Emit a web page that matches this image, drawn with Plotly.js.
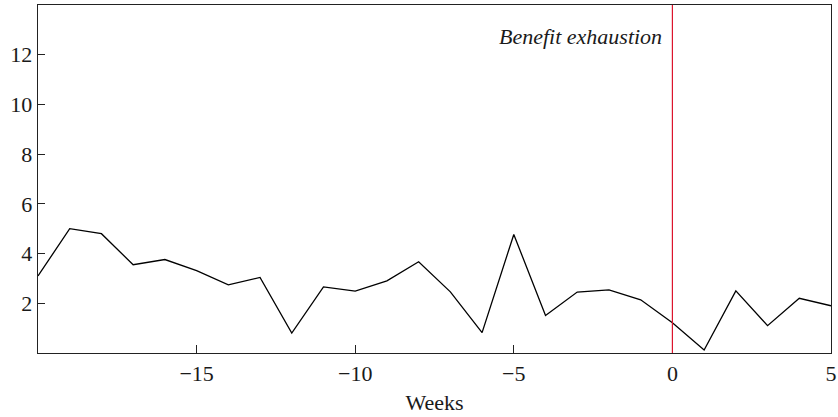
<!DOCTYPE html>
<html>
<head>
<meta charset="utf-8">
<script src="https://cdn.plot.ly/plotly-3.0.1.min.js"></script>
<style>html,body{margin:0;padding:0;background:#fff;}#chart{width:838px;height:417px;}</style>
</head>
<body>
<div id="chart"></div>
<script>
const weeks = [-20,-19,-18,-17,-16,-15,-14,-13,-12,-11,-10,-9,-8,-7,-6,-5,-4,-3,-2,-1,0,1,2,3,4,5];
const values = [3.1,5.0,4.8,3.55,3.76,3.31,2.74,3.04,0.8,2.66,2.49,2.9,3.67,2.46,0.82,4.77,1.51,2.45,2.54,2.14,1.22,0.12,2.5,1.1,2.2,1.9];
const xTicks = [-15,-10,-5,0,5];
const xTickText = ['\u221215','\u221210','\u22125','0','5'];
const yTicks = [2,4,6,8,10,12];
const eventWeek = 0;
const eventLabel = 'Benefit exhaustion';

const font = {family: 'Liberation Serif, Times New Roman, serif', size: 22, color: '#1a1a1a'};

Plotly.newPlot('chart', [{
  x: weeks, y: values, type: 'scatter', mode: 'lines',
  line: {color: '#000', width: 1.3}, hoverinfo: 'skip', showlegend: false
}], {
  width: 838, height: 417,
  margin: {l: 38, r: 7, t: 5, b: 64},
  paper_bgcolor: '#fff', plot_bgcolor: '#fff',
  font: font,
  xaxis: {
    range: [-20, 5], tickvals: xTicks, ticktext: xTickText,
    ticks: 'inside', ticklen: 8, tickcolor: '#222', tickwidth: 1,
    showgrid: false, zeroline: false, showline: true, mirror: true,
    linecolor: '#222', linewidth: 1.3,
    title: {text: 'Weeks', font: font, standoff: 10},
    tickfont: font
  },
  yaxis: {
    range: [0, 14], tickvals: yTicks,
    ticks: 'inside', ticklen: 7, tickcolor: '#222', tickwidth: 1,
    showgrid: false, zeroline: false, showline: true, mirror: true,
    linecolor: '#222', linewidth: 1.3,
    tickfont: font
  },
  shapes: [{type: 'line', xref: 'x', yref: 'paper', x0: eventWeek, x1: eventWeek, y0: 0, y1: 1,
    line: {color: 'rgb(220,20,45)', width: 1.2}}],
  annotations: [{xref: 'x', yref: 'y', x: eventWeek, y: 12.75, text: eventLabel, showarrow: false,
    xanchor: 'right', xshift: -8, yanchor: 'middle',
    font: {family: 'Liberation Serif, Times New Roman, serif', size: 22, color: '#1a1a1a', style: 'italic'}}]
}, {staticPlot: true});
</script>
</body>
</html>
